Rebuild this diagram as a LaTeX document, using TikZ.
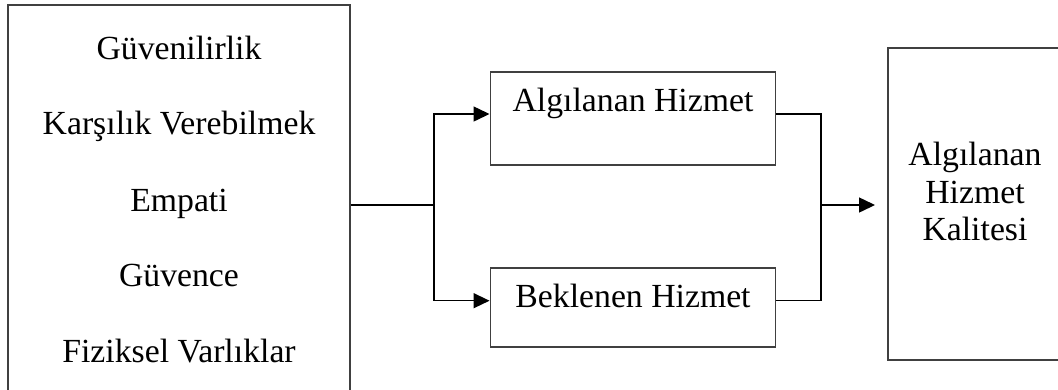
\documentclass[tikz,border=0pt]{standalone}
\usepackage{fontspec}
\setmainfont{Liberation Serif}
\usetikzlibrary{arrows.meta}

\tikzset{
  box/.style={draw=black!75, line width=0.55pt, inner sep=0pt},
  lbl/.style={anchor=base, inner sep=0pt, font=\fontsize{9.6}{11}\selectfont},
  link/.style={line width=0.4pt, >={Triangle[length=1.6mm,width=1.5mm]}}
}

\begin{document}
\begin{tikzpicture}
      % Page frame, everything outside is cut off
      \useasboundingbox (0,0) rectangle (10.58,-3.89);
      \clip (0,0) rectangle (10.58,-3.89);

      % Draw the boxes
      \node[box, minimum width=3.42cm, minimum height=4.0cm] (dims) at (1.79,-2.05) {};
      \node[box, minimum width=2.85cm, minimum height=0.927cm] (perceived) at (6.33,-1.186) {};
      \node[box, minimum width=2.85cm, minimum height=0.79cm] (expected) at (6.33,-3.072) {};
      \node[box, minimum width=1.74cm, minimum height=3.12cm] (quality) at (9.75,-2.04) {};

      % Service quality dimensions
      \node[lbl] (d1) at (1.79,-0.59) {Güvenilirlik};
      \node[lbl] (d2) at (1.79,-1.34) {Karşılık Verebilmek};
      \node[lbl] (d3) at (1.79,-2.117) {Empati};
      \node[lbl] (d4) at (1.79,-2.867) {Güvence};
      \node[lbl] (d5) at (1.79,-3.62) {Fiziksel Varlıklar};

      % Labels of the service boxes
      \node[lbl] (p) at (6.33,-1.117) {Algılanan Hizmet};
      \node[lbl] (e) at (6.33,-3.07) {Beklenen Hizmet};
      \node[lbl] (q1) at (9.75,-1.65) {Algılanan};
      \node[lbl] (q2) at (9.75,-2.03) {Hizmet};
      \node[lbl] (q3) at (9.75,-2.407) {Kalitesi};

      % Split towards the two service boxes
      \coordinate (split) at (4.34,-2.05);
      \draw[link] (dims.east) -- (split);
      \draw[link,->] (split) |- ([yshift=0.46mm]perceived.west);
      \draw[link,->] (split) |- ([yshift=0.65mm]expected.west);

      % Join into the quality box
      \coordinate (join) at (8.21,-2.05);
      \draw[link] ([yshift=0.46mm]perceived.east) -| (join) |- ([yshift=0.65mm]expected.east);
      \draw[link,->,shorten >=1.2mm] (join) -- (join -| quality.west);
\end{tikzpicture}
\end{document}
